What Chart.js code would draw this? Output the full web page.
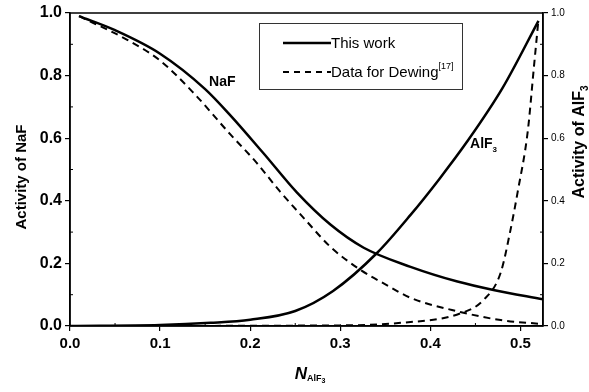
<!DOCTYPE html>
<html>
<head>
<meta charset="utf-8">
<script src="https://cdn.jsdelivr.net/npm/chart.js@4"></script>
<style>
  html, body { margin: 0; padding: 0; background: #fff; }
  canvas { display: block; }
</style>
</head>
<body>
<canvas id="activityChart" width="589" height="392"></canvas>
<script>
const nafWorkX = [0.01, 0.05, 0.1, 0.15, 0.178, 0.215, 0.252, 0.289, 0.326, 0.378, 0.43, 0.47, 0.525];
const nafWorkY = [0.99, 0.945, 0.87, 0.757, 0.673, 0.551, 0.426, 0.324, 0.25, 0.189, 0.142, 0.115, 0.085];
const nafDewingX = [0.01, 0.063, 0.1, 0.137, 0.178, 0.207, 0.233, 0.261, 0.289, 0.322, 0.352, 0.378, 0.433, 0.478, 0.525];
const nafDewingY = [0.99, 0.915, 0.848, 0.745, 0.612, 0.522, 0.43, 0.34, 0.253, 0.18, 0.13, 0.09, 0.045, 0.019, 0.006];
const alfWorkX = [0.0, 0.1, 0.156, 0.2, 0.25, 0.292, 0.341, 0.378, 0.41, 0.441, 0.48, 0.52];
const alfWorkY = [0.0, 0.003, 0.01, 0.02, 0.048, 0.112, 0.234, 0.355, 0.47, 0.59, 0.76, 0.975];
const alfDewingX = [0.0, 0.3, 0.367, 0.433, 0.459, 0.478, 0.489, 0.497, 0.508, 0.515, 0.52];
const alfDewingY = [0.0, 0.002, 0.01, 0.04, 0.083, 0.17, 0.308, 0.43, 0.62, 0.83, 0.98];

const xTicks = [0.0, 0.1, 0.2, 0.3, 0.4, 0.5];
const xMinorTicks = [0.05, 0.15, 0.25, 0.35, 0.45];
const yTicks = [0.0, 0.2, 0.4, 0.6, 0.8, 1.0];
const yMinorTicks = [0.1, 0.3, 0.5, 0.7, 0.9];

const FONT = "'Liberation Sans', Arial, sans-serif";

function pts(xs, ys) {
    return xs.map((x, i) => ({ x: x, y: ys[i] }));
}

function subText(ctx, parts, x, y) {
    // parts: [text, size, weight, style, dy]
    let cx = x;
    parts.forEach(p => {
        ctx.font = `${p[3] || ''} ${p[2] || 'normal'} ${p[1]}px ${FONT}`;
        ctx.fillText(p[0], cx, y + (p[4] || 0));
        cx += ctx.measureText(p[0]).width;
    });
    return cx - x;
}

function measureParts(ctx, parts) {
    let w = 0;
    parts.forEach(p => {
        ctx.font = `${p[3] || ''} ${p[2] || 'normal'} ${p[1]}px ${FONT}`;
        w += ctx.measureText(p[0]).width;
    });
    return w;
}

const decorations = {
    id: 'decorations',
    afterDraw(chart) {
        const ctx = chart.ctx;
        const area = chart.chartArea;
        const sx = chart.scales.x, sy = chart.scales.y, sy2 = chart.scales.y2;
        ctx.save();
        ctx.strokeStyle = '#000';
        ctx.fillStyle = '#000';

        // frame
        ctx.lineWidth = 1.5;
        ctx.strokeRect(area.left, area.top, area.right - area.left, area.bottom - area.top);

        // minor ticks pointing inward
        ctx.lineWidth = 1;
        ctx.beginPath();
        xMinorTicks.forEach(v => {
            const px = sx.getPixelForValue(v);
            ctx.moveTo(px, area.bottom); ctx.lineTo(px, area.bottom - 3);
        });
        yMinorTicks.forEach(v => {
            const py = sy.getPixelForValue(v);
            ctx.moveTo(area.left, py); ctx.lineTo(area.left + 3, py);
            const py2 = sy2.getPixelForValue(v);
            ctx.moveTo(area.right, py2); ctx.lineTo(area.right - 3, py2);
        });
        ctx.stroke();

        // axis titles
        ctx.textBaseline = 'middle';
        ctx.textAlign = 'left';
        let parts = [['Activity of NaF', 15, 'bold']];
        let w = measureParts(ctx, parts);
        ctx.save();
        ctx.translate(22, 177);
        ctx.rotate(-Math.PI / 2);
        subText(ctx, parts, -w / 2, 0);
        ctx.restore();

        parts = [['Activity of AlF', 16, 'bold'], ['3', 10, 'bold', '', 5]];
        w = measureParts(ctx, parts);
        ctx.save();
        ctx.translate(580, 142);
        ctx.rotate(-Math.PI / 2);
        subText(ctx, parts, -w / 2, 0);
        ctx.restore();

        parts = [['N', 17, 'bold', 'italic'], ['AlF', 9, 'bold', '', 5], ['3', 7, 'bold', '', 7]];
        w = measureParts(ctx, parts);
        subText(ctx, parts, 310 - w / 2, 374);

        // curve labels
        parts = [['NaF', 14, 'bold']];
        w = measureParts(ctx, parts);
        subText(ctx, parts, sx.getPixelForValue(0.169) - w / 2, sy.getPixelForValue(0.779));
        parts = [['AlF', 14, 'bold'], ['3', 8, 'bold', '', 5]];
        w = measureParts(ctx, parts);
        subText(ctx, parts, sx.getPixelForValue(0.459) - w / 2, sy.getPixelForValue(0.58));

        // legend
        ctx.lineWidth = 1;
        ctx.strokeStyle = '#333';
        ctx.strokeRect(259.5, 23.5, 203, 66);
        ctx.strokeStyle = '#000';
        ctx.lineWidth = 2.5;
        ctx.setLineDash([]);
        ctx.beginPath(); ctx.moveTo(283, 43); ctx.lineTo(331, 43); ctx.stroke();
        ctx.lineWidth = 1.8;
        ctx.setLineDash([6, 5]);
        ctx.beginPath(); ctx.moveTo(283, 72); ctx.lineTo(331, 72); ctx.stroke();
        ctx.setLineDash([]);
        subText(ctx, [['This work', 15]], 331, 44);
        subText(ctx, [['Data for Dewing', 15], ['[17]', 9, 'normal', '', -6]], 331, 73);

        ctx.restore();
    }
};

const tickFont = { family: FONT, size: 15, weight: 'bold' };

new Chart(document.getElementById('activityChart').getContext('2d'), {
    type: 'line',
    data: {
        datasets: [
            { label: 'This work', data: pts(nafWorkX, nafWorkY), borderColor: '#000', borderWidth: 2.5, pointRadius: 0, cubicInterpolationMode: 'monotone', yAxisID: 'y' },
            { label: 'Data for Dewing', data: pts(nafDewingX, nafDewingY), borderColor: '#000', borderWidth: 2, borderDash: [7, 5], pointRadius: 0, cubicInterpolationMode: 'monotone', yAxisID: 'y' },
            { label: 'AlF3 this work', data: pts(alfWorkX, alfWorkY), borderColor: '#000', borderWidth: 2.5, pointRadius: 0, cubicInterpolationMode: 'monotone', yAxisID: 'y2' },
            { label: 'AlF3 Dewing', data: pts(alfDewingX, alfDewingY), borderColor: '#000', borderWidth: 2, borderDash: [7, 5], pointRadius: 0, cubicInterpolationMode: 'monotone', yAxisID: 'y2' }
        ]
    },
    options: {
        responsive: false,
        animation: false,
        devicePixelRatio: 1,
        layout: { padding: { top: 13, left: 0, right: 0, bottom: 0 } },
        plugins: { legend: { display: false }, tooltip: { enabled: false } },
        scales: {
            x: {
                type: 'linear', min: 0, max: 0.525,
                afterBuildTicks: s => { s.ticks = xTicks.map(v => ({ value: v })); },
                afterFit: s => { s.height = 66; },
                ticks: { font: tickFont, color: '#000', padding: 4, maxRotation: 0, callback: v => v.toFixed(1) },
                grid: { drawOnChartArea: false, tickLength: 5, color: '#000', lineWidth: 1.2 },
                border: { color: '#000', width: 1.5 }
            },
            y: {
                type: 'linear', position: 'left', min: 0, max: 1,
                afterBuildTicks: s => { s.ticks = yTicks.map(v => ({ value: v })); },
                afterFit: s => { s.width = 70; },
                ticks: { font: { family: FONT, size: 16, weight: 'bold' }, color: '#000', padding: 3, callback: v => v.toFixed(1) },
                grid: { drawOnChartArea: false, tickLength: 5, color: '#000', lineWidth: 1.2 },
                border: { color: '#000', width: 1.5 }
            },
            y2: {
                type: 'linear', position: 'right', min: 0, max: 1,
                afterBuildTicks: s => { s.ticks = yTicks.map(v => ({ value: v })); },
                afterFit: s => { s.width = 46; },
                ticks: { font: { family: FONT, size: 10 }, color: '#000', padding: 3, callback: v => v.toFixed(1) },
                grid: { drawOnChartArea: false, tickLength: 5, color: '#000', lineWidth: 1.2 },
                border: { color: '#000', width: 1.5 }
            }
        }
    },
    plugins: [decorations]
});
</script>
</body>
</html>
